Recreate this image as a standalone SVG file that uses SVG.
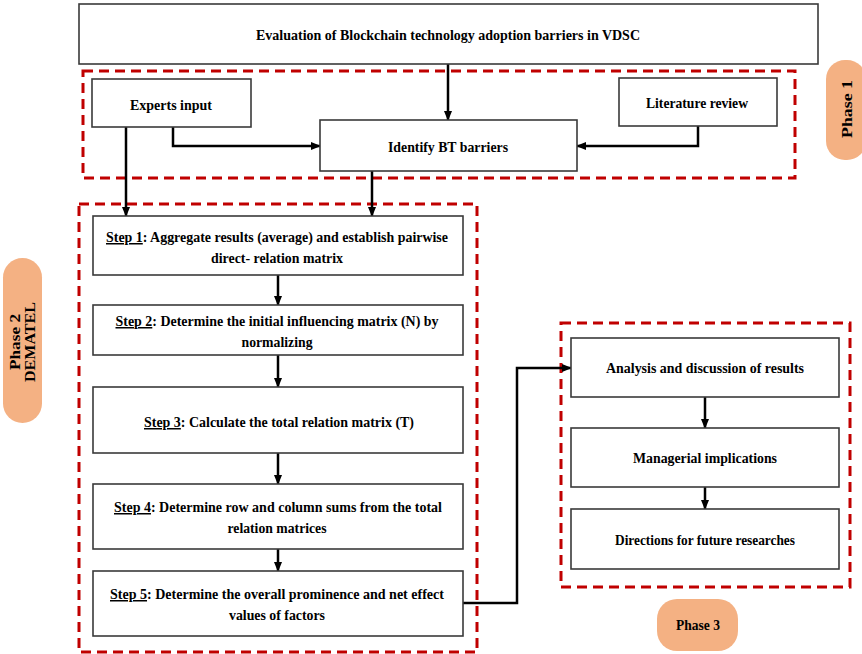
<svg xmlns="http://www.w3.org/2000/svg" width="862" height="654" viewBox="0 0 862 654">
  <defs>
    <marker id="arrow" markerUnits="userSpaceOnUse" markerWidth="10" markerHeight="10" refX="9" refY="5" orient="auto">
      <path d="M0,1 L10,5 L0,9 Z" fill="#000"/>
    </marker>
    <style>
      .box { fill: #fff; stroke: #3a3a3a; stroke-width: 1.6; }
      .phase { fill: none; stroke: #c00000; stroke-width: 3; stroke-dasharray: 10 6; }
      .pill { fill: #f4b183; stroke: none; }
      .lbl { font-family: "Liberation Serif", "Times New Roman", serif; font-weight: bold; font-size: 15px; fill: #000; text-anchor: middle; }
      .pl { font-family: "Liberation Serif", "Times New Roman", serif; font-weight: bold; font-size: 14px; fill: #000; text-anchor: middle; }
      .u { text-decoration: underline; }
      .conn path { fill: none; stroke: #000; stroke-width: 2.5; }
    </style>
  </defs>
  <rect width="862" height="654" fill="#fff"/>

  <!-- phase frames -->
  <g id="phase-frames">
    <rect class="phase" x="83" y="71" width="712" height="107"/>
    <rect class="phase" x="79" y="204" width="398" height="448"/>
    <rect class="phase" x="561" y="323" width="289" height="264"/>
  </g>

  <!-- phase badges -->
  <g id="phase1-badge">
    <rect class="pill" x="826" y="60" width="40" height="100" rx="19" ry="19"/>
    <text class="pl" transform="translate(852,109) rotate(-90)" textLength="58" lengthAdjust="spacingAndGlyphs">Phase 1</text>
  </g>
  <g id="phase2-badge">
    <rect class="pill" x="3" y="258" width="39" height="165" rx="19.5" ry="19.5"/>
    <text class="pl" transform="translate(20,342) rotate(-90)" textLength="56" lengthAdjust="spacingAndGlyphs">Phase 2</text>
    <text class="pl" transform="translate(35,342) rotate(-90)" textLength="80" lengthAdjust="spacingAndGlyphs">DEMATEL</text>
  </g>
  <g id="phase3-badge">
    <rect class="pill" x="657" y="599" width="81" height="52" rx="20" ry="20"/>
    <text class="pl" x="698" y="630" textLength="44" lengthAdjust="spacingAndGlyphs">Phase 3</text>
  </g>

  <!-- connectors -->
  <g id="connectors" class="conn">
    <path d="M448,64 V120" marker-end="url(#arrow)"/>
    <path d="M173,127 V146 H320" marker-end="url(#arrow)"/>
    <path d="M698,126 V146 H577" marker-end="url(#arrow)"/>
    <path d="M126,127 V216" marker-end="url(#arrow)"/>
    <path d="M372,171 V216" marker-end="url(#arrow)"/>
    <path d="M278,275 V305" marker-end="url(#arrow)"/>
    <path d="M278,355 V387" marker-end="url(#arrow)"/>
    <path d="M278,453 V484" marker-end="url(#arrow)"/>
    <path d="M278,549 V571" marker-end="url(#arrow)"/>
    <path d="M463,603 H517 V368 H571" marker-end="url(#arrow)"/>
    <path d="M705,397 V428" marker-end="url(#arrow)"/>
    <path d="M705,487 V509" marker-end="url(#arrow)"/>
  </g>

  <!-- nodes -->
  <g id="title">
    <rect class="box" x="79" y="4" width="739" height="60"/>
    <text class="lbl" x="448" y="40" textLength="384" lengthAdjust="spacingAndGlyphs">Evaluation of Blockchain technology adoption barriers in VDSC</text>
  </g>
  <g id="experts-input">
    <rect class="box" x="92" y="79" width="159" height="48"/>
    <text class="lbl" x="171" y="110" textLength="82" lengthAdjust="spacingAndGlyphs">Experts input</text>
  </g>
  <g id="literature-review">
    <rect class="box" x="619" y="78" width="158" height="48"/>
    <text class="lbl" x="697" y="108" textLength="102" lengthAdjust="spacingAndGlyphs">Literature review</text>
  </g>
  <g id="identify-barriers">
    <rect class="box" x="320" y="120" width="257" height="51"/>
    <text class="lbl" x="448" y="152" textLength="120" lengthAdjust="spacingAndGlyphs">Identify BT barriers</text>
  </g>

  <g id="step1">
    <rect class="box" x="93" y="216" width="370" height="59"/>
    <text class="lbl" x="277" y="242" textLength="342" lengthAdjust="spacingAndGlyphs"><tspan class="u">Step 1</tspan>: Aggregate results (average) and establish pairwise</text>
    <text class="lbl" x="277" y="263" textLength="132" lengthAdjust="spacingAndGlyphs">direct- relation matrix</text>
  </g>
  <g id="step2">
    <rect class="box" x="93" y="305" width="370" height="50"/>
    <text class="lbl" x="277" y="326" textLength="323" lengthAdjust="spacingAndGlyphs"><tspan class="u">Step 2</tspan>: Determine the initial influencing matrix (N) by</text>
    <text class="lbl" x="277" y="347" textLength="71" lengthAdjust="spacingAndGlyphs">normalizing</text>
  </g>
  <g id="step3">
    <rect class="box" x="93" y="387" width="370" height="66"/>
    <text class="lbl" x="279" y="427" textLength="270" lengthAdjust="spacingAndGlyphs"><tspan class="u">Step 3</tspan>: Calculate the total relation matrix (T)</text>
  </g>
  <g id="step4">
    <rect class="box" x="93" y="484" width="370" height="65"/>
    <text class="lbl" x="278" y="512" textLength="328" lengthAdjust="spacingAndGlyphs"><tspan class="u">Step 4</tspan>: Determine row and column sums from the total</text>
    <text class="lbl" x="277" y="533" textLength="99" lengthAdjust="spacingAndGlyphs">relation matrices</text>
  </g>
  <g id="step5">
    <rect class="box" x="93" y="571" width="370" height="65"/>
    <text class="lbl" x="277" y="599" textLength="334" lengthAdjust="spacingAndGlyphs"><tspan class="u">Step 5</tspan>: Determine the overall prominence and net effect</text>
    <text class="lbl" x="277" y="620" textLength="96" lengthAdjust="spacingAndGlyphs">values of factors</text>
  </g>

  <g id="analysis">
    <rect class="box" x="571" y="338" width="268" height="59"/>
    <text class="lbl" x="705" y="373" textLength="198" lengthAdjust="spacingAndGlyphs">Analysis and discussion of results</text>
  </g>
  <g id="managerial">
    <rect class="box" x="571" y="428" width="268" height="59"/>
    <text class="lbl" x="705" y="463" textLength="144" lengthAdjust="spacingAndGlyphs">Managerial implications</text>
  </g>
  <g id="future-research">
    <rect class="box" x="571" y="509" width="268" height="60"/>
    <text class="lbl" x="705" y="545" textLength="180" lengthAdjust="spacingAndGlyphs">Directions for future researches</text>
  </g>
</svg>
